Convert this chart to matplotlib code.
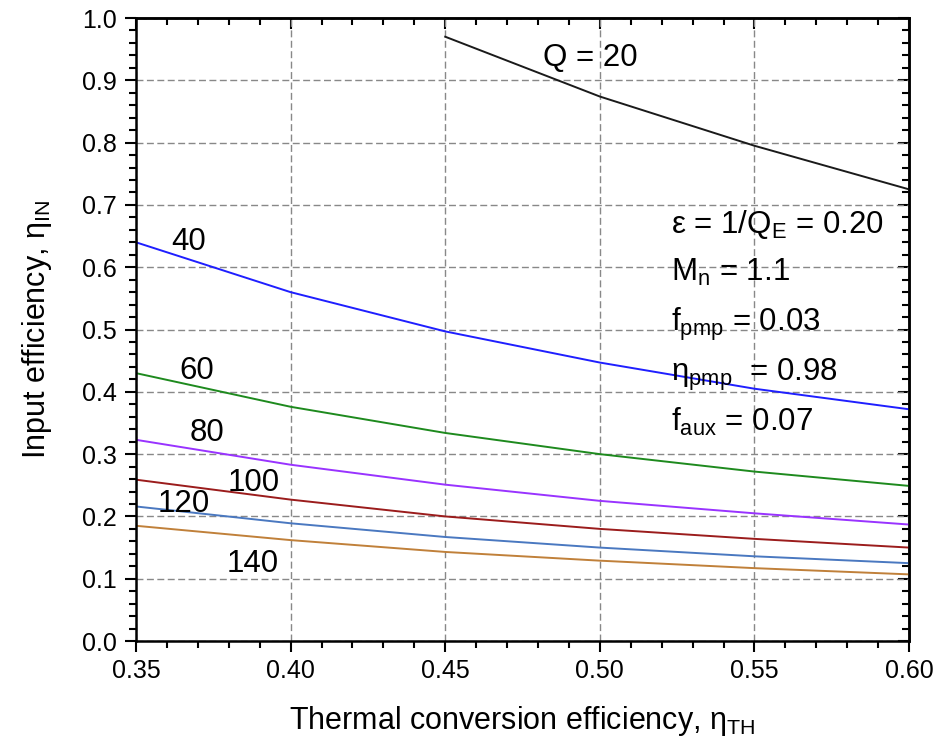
import numpy as np
import matplotlib
matplotlib.use("Agg")
import matplotlib.pyplot as plt
from matplotlib.ticker import MultipleLocator, FormatStrFormatter, NullFormatter

plt.rcParams['font.family'] = ['Liberation Sans', 'DejaVu Sans']
plt.rcParams['mathtext.fontset'] = 'custom'
plt.rcParams['mathtext.rm'] = 'Liberation Sans'
plt.rcParams['mathtext.it'] = 'Liberation Sans:italic'

# thermal conversion efficiency (x) and input efficiency curves for each Q
eta_th = [0.35, 0.40, 0.45, 0.50, 0.55, 0.60]
eta_th_q20 = [0.45, 0.50, 0.55, 0.60]
q20 = [0.970, 0.874, 0.795, 0.725]
q40 = [0.640, 0.560, 0.497, 0.447, 0.405, 0.372]
q60 = [0.430, 0.376, 0.334, 0.300, 0.272, 0.249]
q80 = [0.323, 0.283, 0.251, 0.225, 0.205, 0.187]
q100 = [0.259, 0.227, 0.200, 0.180, 0.164, 0.150]
q120 = [0.216, 0.189, 0.167, 0.150, 0.136, 0.125]
q140 = [0.185, 0.162, 0.143, 0.129, 0.117, 0.107]

fig = plt.figure(figsize=(9.36, 7.48), dpi=100)
ax = fig.add_axes([0.1453, 0.1430, 0.8259, 0.8329])

ax.plot(eta_th_q20, q20, color='#1a1a1a', lw=1.4)
ax.plot(eta_th, q40, color='#1f1fff', lw=1.4)
ax.plot(eta_th, q60, color='#1e8a1e', lw=1.4)
ax.plot(eta_th, q80, color='#9933ff', lw=1.4)
ax.plot(eta_th, q100, color='#9b1c1c', lw=1.4)
ax.plot(eta_th, q120, color='#4a78c0', lw=1.4)
ax.plot(eta_th, q140, color='#c0803a', lw=1.4)

# curve labels
fs = 22.5
ax.text(0.497, 0.936, 'Q = 20', fontsize=fs, ha='center', va='center')
ax.text(0.367, 0.640, '40', fontsize=fs, ha='center', va='center')
ax.text(0.3695, 0.434, '60', fontsize=fs, ha='center', va='center')
ax.text(0.373, 0.334, '80', fontsize=fs, ha='center', va='center')
ax.text(0.388, 0.254, '100', fontsize=fs, ha='center', va='center')
ax.text(0.3656, 0.220, '120', fontsize=fs, ha='center', va='center')
ax.text(0.3876, 0.124, '140', fontsize=fs, ha='center', va='center')

# parameter block
px = 0.5229
ax.text(px, 0.655, r'ε = 1/Q$_{\rm E}$ = 0.20', fontsize=fs, va='baseline')
ax.text(px, 0.578, r'M$_{\rm n}$ = 1.1', fontsize=fs, va='baseline')
ax.text(px, 0.498, r'f$_{\rm pmp}$ = 0.03', fontsize=fs, va='baseline')
ax.text(px, 0.418, r'η$_{\rm pmp}$  = 0.98', fontsize=fs, va='baseline')
ax.text(px, 0.3365, r'f$_{\rm aux}$ = 0.07', fontsize=fs, va='baseline')

ax.set_xlim(0.35, 0.60)
ax.set_ylim(0.0, 1.0)
ax.xaxis.set_major_locator(MultipleLocator(0.05))
ax.xaxis.set_minor_locator(MultipleLocator(0.01))
ax.yaxis.set_major_locator(MultipleLocator(0.1))
ax.yaxis.set_minor_locator(MultipleLocator(0.02))
ax.xaxis.set_major_formatter(FormatStrFormatter('%.2f'))
ax.yaxis.set_major_formatter(FormatStrFormatter('%.1f'))
ax.tick_params(which='both', direction='out', width=1.5, labelsize=18)
ax.tick_params(which='major', length=8)
ax.tick_params(which='minor', length=5)
ax.tick_params(axis='x', which='major', pad=5)
ax.tick_params(axis='y', which='major', pad=6)

# mirrored ticks pointing inward on top and right
top = ax.secondary_xaxis('top')
top.xaxis.set_major_locator(MultipleLocator(0.05))
top.xaxis.set_minor_locator(MultipleLocator(0.01))
top.xaxis.set_major_formatter(NullFormatter())
right = ax.secondary_yaxis('right')
right.yaxis.set_major_locator(MultipleLocator(0.1))
right.yaxis.set_minor_locator(MultipleLocator(0.02))
right.yaxis.set_major_formatter(NullFormatter())
for sec in (top, right):
    sec.tick_params(which='both', direction='in', width=1.5)
    sec.tick_params(which='major', length=8)
    sec.tick_params(which='minor', length=5)
    for s in sec.spines.values():
        s.set_linewidth(1.8)

for s in ax.spines.values():
    s.set_linewidth(1.8)

ax.grid(True, which='major', color='#888888', linestyle=(0, (5, 2.5)), lw=1.0)

ax.set_xlabel(r'Thermal conversion efficiency, η$_{\rm TH}$', fontsize=22, labelpad=15)
ax.set_ylabel(r'Input efficiency, η$_{\rm IN}$', fontsize=22, labelpad=20)

fig.savefig('out.png', dpi=100)
